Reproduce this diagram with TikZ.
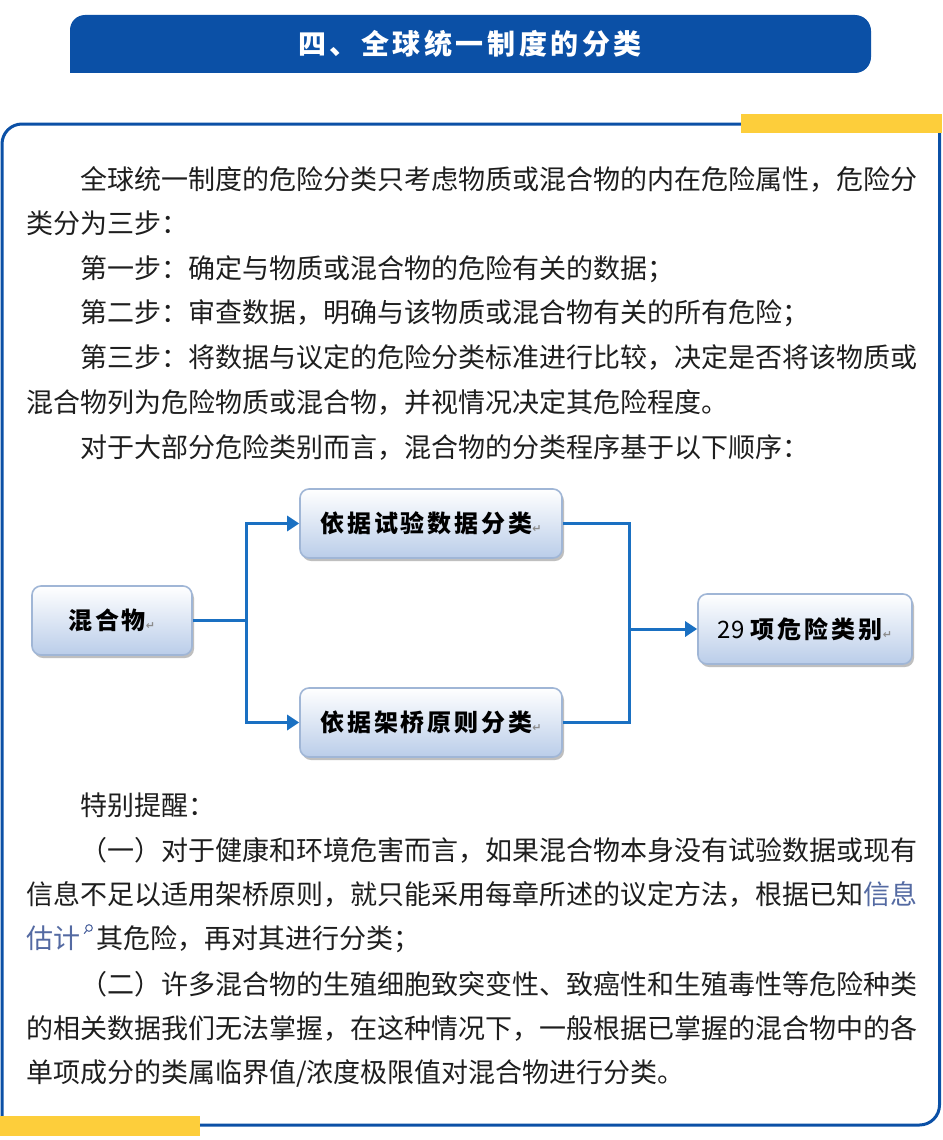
\documentclass[tikz,border=0pt]{standalone}
\usepackage{fontspec}
\setmainfont{Noto Sans CJK SC}
\newfontfamily\dejavu{DejaVu Sans}
\usetikzlibrary{arrows.meta,shadows}
\definecolor{hdrblue}{RGB}{11,80,166}
\definecolor{baryellow}{RGB}{253,206,59}
\definecolor{conblue}{RGB}{26,112,194}
\definecolor{boxborder}{RGB}{160,182,214}
\definecolor{boxbot}{RGB}{186,205,233}
\definecolor{linkc}{RGB}{84,106,162}
\definecolor{bodytext}{RGB}{30,30,30}
\newcommand{\retmark}{{\dejavu\fontsize{11}{11}\selectfont\textcolor{black!45}{↵}}}
\tikzset{
  txt/.style={anchor=west, inner sep=0pt, text=bodytext,
    font=\fontsize{27}{27}\selectfont, text height=23.8pt, text depth=3.2pt},
  flowbox/.style={draw=boxborder, line width=1.6pt, rounded corners=9pt,
    top color=white, bottom color=boxbot, inner sep=0pt,
    drop shadow={shadow xshift=2pt, shadow yshift=-3pt, fill=black!45, opacity=0.55},
    font=\fontsize{24}{24}\selectfont\bfseries, text=black},
  conn/.style={draw=conblue, line width=3pt},
  tip/.style={-{Triangle[length=12pt,width=15pt]}},
  frameline/.style={draw=hdrblue, line width=3pt}
}
\begin{document}
\begin{tikzpicture}[x=1pt,y=-1pt]
\useasboundingbox (0,0) rectangle (942,1140);
\fill[white] (0,0) rectangle (942,1140);

% header
\fill[hdrblue] (70,73) -- (70,30) arc[start angle=180, end angle=270, radius=15]
  -- (855,15) arc[start angle=270, end angle=360, radius=16] -- (871,57)
  arc[start angle=0, end angle=90, radius=16] -- cycle;
\node[text=white, font=\fontsize{28}{28}\selectfont\bfseries, inner sep=0pt] (title) at (470,44)
  {\makebox[344pt][s]{四\hfill 、\hfill 全\hfill 球\hfill 统\hfill 一\hfill 制\hfill 度\hfill 的\hfill 分\hfill 类}};

% frame
\draw[frameline, rounded corners=20pt] (939.5,124) -- (2,124) -- (2,1125);
\draw[frameline, rounded corners=20pt] (2,1125) -- (939.5,1125) -- (939.5,124);
\fill[baryellow] (741,114) rectangle (942,133);
\fill[baryellow] (0,1116) rectangle (200,1136);

% body text
\node[txt] (l1) at (80,179) {全球统一制度的危险分类只考虑物质或混合物的内在危险属性，危险分};
\node[txt] (l2) at (26,223) {类分为三步：};
\node[txt] (l3) at (80,268) {第一步：确定与物质或混合物的危险有关的数据；};
\node[txt] (l4) at (80,312) {第二步：审查数据，明确与该物质或混合物有关的所有危险；};
\node[txt] (l5) at (80,357) {第三步：将数据与议定的危险分类标准进行比较，决定是否将该物质或};
\node[txt] (l6) at (26,402) {混合物列为危险物质或混合物，并视情况决定其危险程度。};
\node[txt] (l7) at (80,447) {对于大部分危险类别而言，混合物的分类程序基于以下顺序：};

% flowchart
\node[flowbox, minimum width=160pt, minimum height=69pt] (m) at (112,620.5)
  {\makebox[77pt][s]{混\hfill 合\hfill 物}\retmark};
\node[flowbox, minimum width=262pt, minimum height=69pt] (a) at (431,523.5)
  {\makebox[212pt][s]{依\hfill 据\hfill 试\hfill 验\hfill 数\hfill 据\hfill 分\hfill 类}\retmark};
\node[flowbox, minimum width=262pt, minimum height=69pt] (b) at (431,722.5)
  {\makebox[212pt][s]{依\hfill 据\hfill 架\hfill 桥\hfill 原\hfill 则\hfill 分\hfill 类}\retmark};
\node[flowbox, minimum width=214pt, minimum height=70pt] (c) at (805,629)
  {\makebox[165pt][s]{{\mdseries 29}\hfill\hfill 项\hfill 危\hfill 险\hfill 类\hfill 别}\retmark};
\coordinate (jl) at (246,620.5);
\coordinate (jr) at (629,629);
\draw[conn] (m.east) -- (jl);
\draw[conn, tip] (jl) |- (a.west);
\draw[conn, tip] (jl) |- (b.west);
\draw[conn] (a.east) -| (jr);
\draw[conn] (b.east) -| (jr);
\draw[conn, tip] (jr) -- (c.west);

% reminders
\node[txt] (l8) at (80,805) {特别提醒：};
\node[txt] (l9) at (80,850) {（一）对于健康和环境危害而言，如果混合物本身没有试验数据或现有};
\node[txt] (l10) at (26,894) {信息不足以适用架桥原则，就只能采用每章所述的议定方法，根据已知\textcolor{linkc}{信息}};
\node[txt, text=linkc] (l11a) at (26,938) {估计};
\draw[linkc, line width=1.1pt] (89,928) circle[radius=3.3];
\draw[linkc, line width=1.1pt, line cap=round] (86.6,930.6) -- (84.3,933.5);
\node[txt] (l11b) at (96,938) {其危险，再对其进行分类；};
\node[txt] (l12) at (80,984) {（二）许多混合物的生殖细胞致突变性、致癌性和生殖毒性等危险种类};
\node[txt] (l13) at (26,1028) {的相关数据我们无法掌握，在这种情况下，一般根据已掌握的混合物中的各};
\node[txt] (l14) at (26,1072) {单项成分的类属临界值/浓度极限值对混合物进行分类。};
\end{tikzpicture}
\end{document}
